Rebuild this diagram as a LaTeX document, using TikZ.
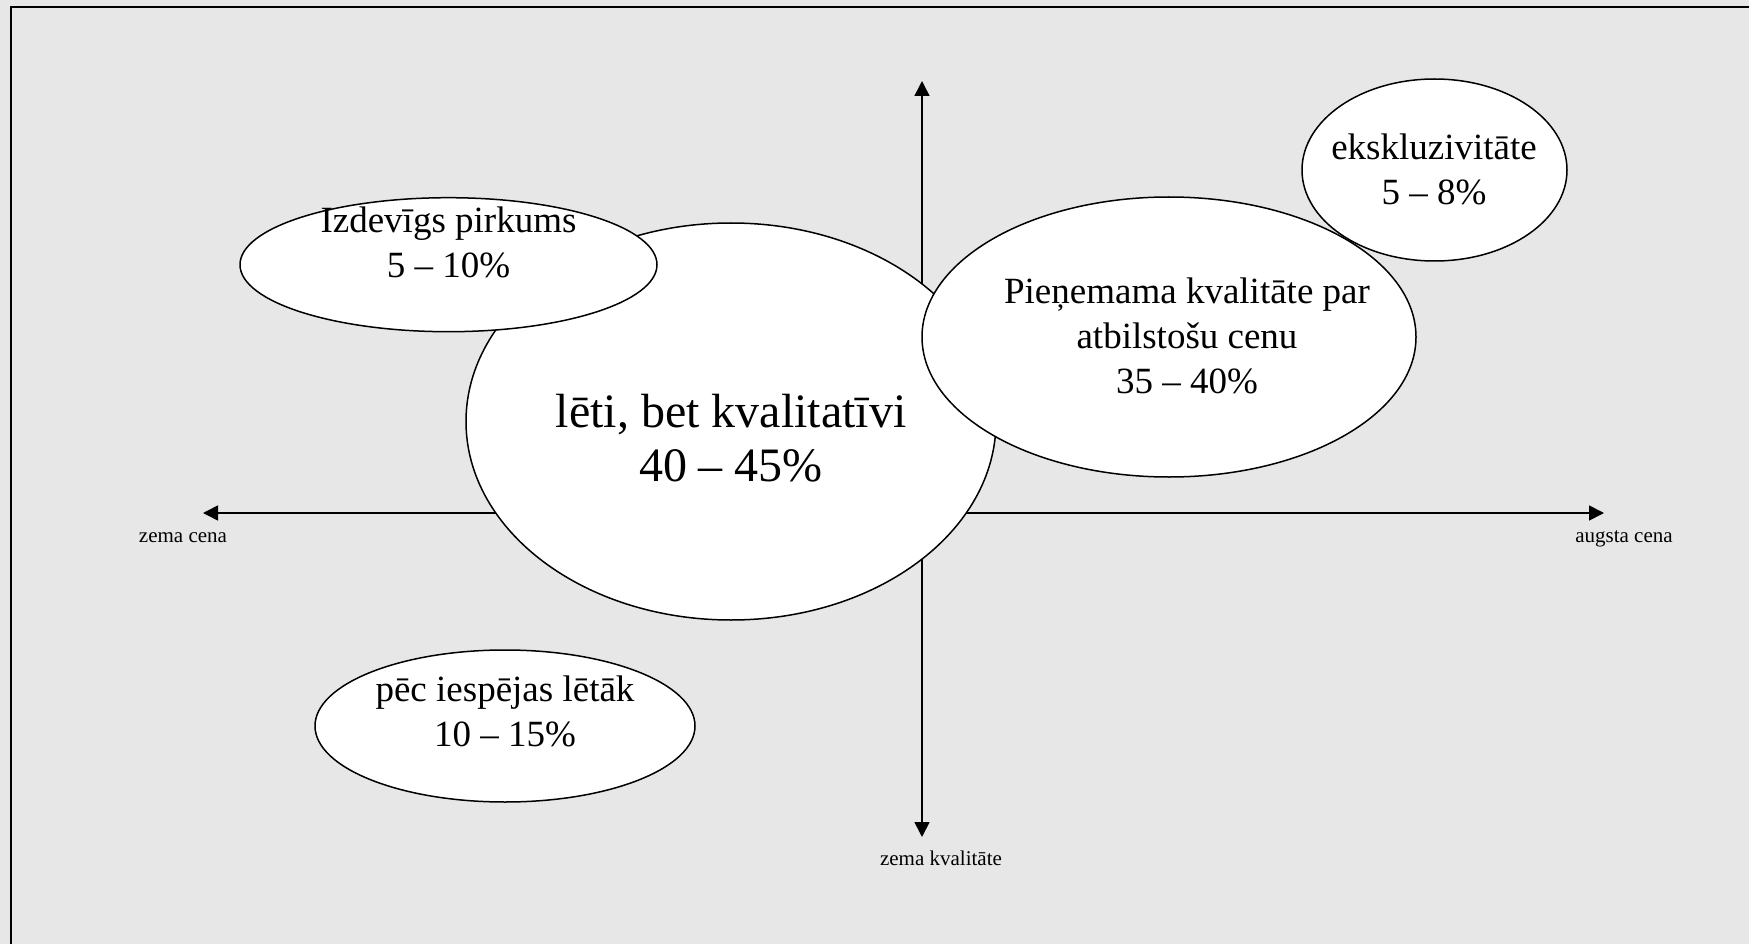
\documentclass[tikz,border=0pt]{standalone}
\usepackage{fontspec}
\setmainfont{Liberation Serif}
\usetikzlibrary{shapes.geometric,arrows.meta}
\definecolor{bgcol}{RGB}{231,231,231}
\tikzset{
  bubble/.style={ellipse, draw, fill=white, line width=1.5pt, inner sep=0pt},
  btext/.style={align=center, font=\fontsize{37}{45}\selectfont, anchor=base, inner sep=0pt},
  bigtext/.style={align=center, font=\fontsize{48}{54}\selectfont, anchor=base, inner sep=0pt},
  axislbl/.style={font=\fontsize{21}{25}\selectfont, anchor=base, inner sep=0pt},
  axisline/.style={line width=1.6pt, {Triangle[width=15pt,length=15pt]}-{Triangle[width=15pt,length=15pt]}},
  framestyle/.style={line width=2pt}
}
\begin{document}
\begin{tikzpicture}[x=1pt,y=-1pt]
\useasboundingbox (0,0) rectangle (1749,944);
\clip (0,0) rectangle (1749,944);
\fill[bgcol] (0,0) rectangle (1749,944);
\draw[framestyle] (11,960) -- (11,7) -- (1760,7);
% axes
\coordinate (xl) at (203,513);
\coordinate (xr) at (1604,513);
\coordinate (yt) at (922,81);
\coordinate (yb) at (922,837);
\draw[axisline] (xl) -- (xr);
\draw[axisline] (yt) -- (yb);
\node[axislbl] (lblzc) at (183,542) {zema cena};
\node[axislbl] (lblac) at (1624,542) {augsta cena};
\node[axislbl] (lblzk) at (941,865) {zema kvalitāte};
% big ellipse
\node[bubble, minimum width=530pt, minimum height=397pt] (leti) at (731,421.5) {};
\node[bigtext] (letit) at (731,481) {lēti, bet kvalitatīvi\\40 – 45\%};
% Izdevigs
\node[bubble, minimum width=417pt, minimum height=134pt] (izd) at (448.5,264.7) {};
\node[btext] (izdt) at (448.5,277) {Izdevīgs pirkums\\5 – 10\%};
% Pienemama and ekskluzivitate
\node[bubble, minimum width=494pt, minimum height=280pt] (pien) at (1169,337) {};
\node[bubble, minimum width=265pt, minimum height=182pt] (eks) at (1434.5,170) {};
\node[btext] (pient) at (1187,393) {Pieņemama kvalitāte par\\atbilstošu cenu\\35 – 40\%};
\node[btext] (ekst) at (1434,205) {ekskluzivitāte\\5 – 8\%};
% pec iespejas
\node[bubble, minimum width=380pt, minimum height=152pt] (pec) at (505,726) {};
\node[btext] (pect) at (505,746) {pēc iespējas lētāk\\10 – 15\%};
\end{tikzpicture}
\end{document}
